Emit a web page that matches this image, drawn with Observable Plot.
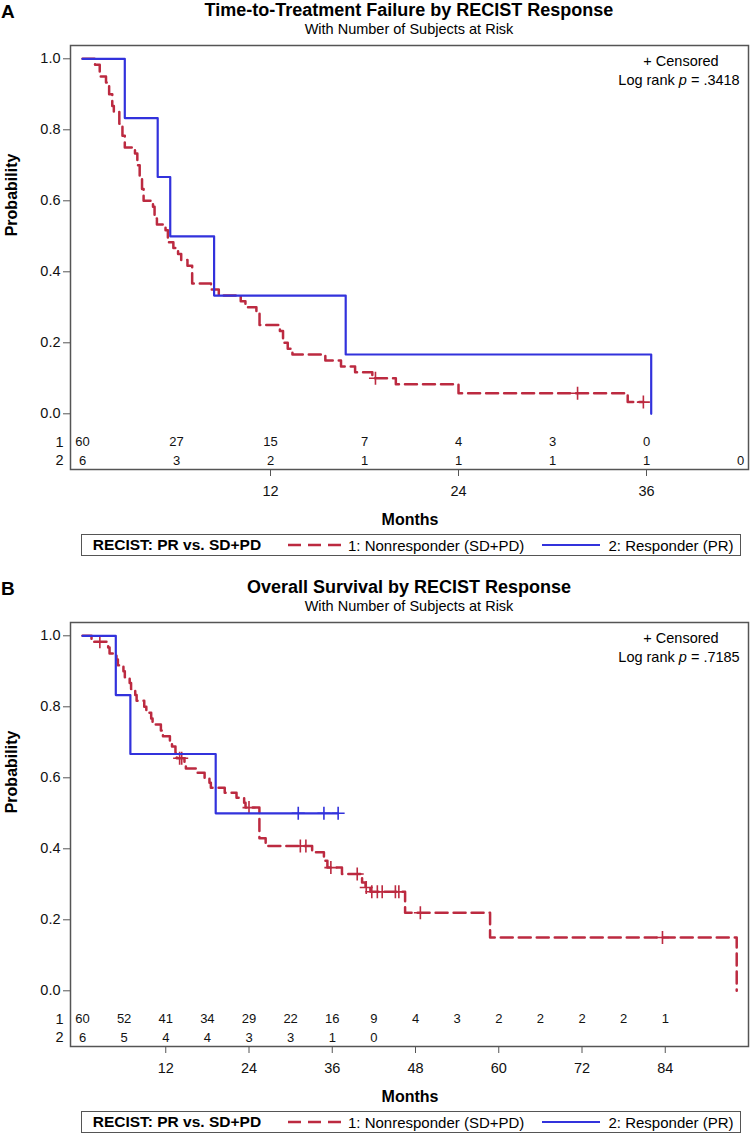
<!DOCTYPE html>
<html>
<head>
<meta charset="utf-8">
<script src="https://cdn.jsdelivr.net/npm/d3@7"></script>
<script src="https://cdn.jsdelivr.net/npm/@observablehq/plot@0.6"></script>
<style>
  body { margin: 0; background: #fff; font-family: "Liberation Sans", Arial, sans-serif; color: #000; }
  .panel { position: relative; width: 756px; overflow: hidden; }
  .panel svg.plot { position: absolute; left: 0; top: 0; }
  .abs { position: absolute; white-space: nowrap; line-height: 1; }
  .legend { position: absolute; box-sizing: border-box; border: 1.5px solid #555; background: #fff; }
</style>
</head>
<body>
<div id="panelA" class="panel" style="height:577px"></div>
<div id="panelB" class="panel" style="height:558px"></div>
<script>
// ---------- DATA ----------
// Panel A: Time-to-Treatment Failure (months, survival probability)
const ttfNonTime = [0,0.8,1.1,1.5,1.7,1.9,2.0,2.35,2.55,2.7,3.35,3.5,3.65,3.8,3.9,4.5,4.6,4.75,5.3,5.45,5.8,6.1,6.3,6.7,7.0,8.2,8.7,10.1,10.4,11.1,11.3,12.6,12.8,13.1,13.4,15.5,16.5,17.4,18.5,20.0,24.0,34.8,35.8];
const ttfNonSurv = [1,.983,.95,.933,.9,.867,.85,.817,.783,.75,.733,.7,.667,.633,.6,.583,.55,.533,.517,.483,.467,.45,.433,.417,.367,.35,.333,.317,.3,.283,.25,.233,.2,.183,.167,.15,.133,.117,.1,.083,.058,.033,.033];
const ttfNonCensTime = [18.7, 31.6, 35.8];
const ttfNonCensSurv = [0.10, 0.058, 0.033];
const ttfRespTime = [0, 2.7, 4.8, 5.6, 8.4, 16.8, 36.3];
const ttfRespSurv = [1, .833, .667, .5, .333, .167, 0];
const ttfRiskTimes = [0, 6, 12, 18, 24, 30, 36, 42];
const ttfRisk1 = [60, 27, 15, 7, 4, 3, 0, null];
const ttfRisk2 = [6, 3, 2, 1, 1, 1, 1, 0];
const ttfTicks = [12, 24, 36];

// Panel B: Overall Survival
const osNonTime = [0,1.3,3.7,3.9,4.9,5.1,5.9,6.1,6.8,7.0,7.6,7.8,8.9,9.2,9.9,10.1,11.3,11.6,12.6,12.9,13.4,13.6,14.7,14.9,16.6,17.6,18.3,18.5,20.5,22.2,23.3,23.5,25.5,26.4,33.1,34.8,35.3,37.4,40.3,40.8,41.5,46.5,58.75,94.3];
const osNonSurv = [1,.983,.967,.95,.933,.917,.9,.883,.867,.85,.833,.817,.8,.783,.767,.75,.733,.717,.70,.688,.671,.655,.64,.626,.614,.60,.586,.572,.558,.544,.53,.516,.43,.408,.39,.366,.347,.329,.305,.291,.279,.22,.15,0];
const osNonCensTime = [2.5, 14.0, 14.3, 24.0, 31.4, 32.2, 35.8, 39.6, 40.9, 41.7, 42.5, 43.2, 45.1, 45.6, 48.7, 83.6];
const osNonCensSurv = [.983, .655, .655, .516, .408, .408, .347, .329, .291, .279, .279, .279, .279, .279, .22, .15];
const osRespTime = [0, 4.8, 6.9, 19.2, 36.85];
const osRespSurv = [1, .833, .667, .5, .5];
const osRespCensTime = [31.1, 34.8, 36.85];
const osRespCensSurv = [.5, .5, .5];
const osRiskTimes = [0, 6, 12, 18, 24, 30, 36, 42, 48, 54, 60, 66, 72, 78, 84];
const osRisk1 = [60, 52, 41, 34, 29, 22, 16, 9, 4, 3, 2, 2, 2, 2, 1];
const osRisk2 = [6, 5, 4, 4, 3, 3, 1, 0];
const osTicks = [12, 24, 36, 48, 60, 72, 84];

const groupLabels = ["1: Nonresponder (SD+PD)", "2: Responder (PR)"];
const RED = "#BC2A40";
const BLUE = "#3232DC";
const FONT = '"Liberation Sans", Arial, sans-serif';

// ---------- HELPERS ----------
const plusSymbol = {
  draw(ctx, size) {
    const r = Math.sqrt(size / Math.PI);
    ctx.moveTo(-r, 0); ctx.lineTo(r, 0);
    ctx.moveTo(0, -r); ctx.lineTo(0, r);
  }
};
const zip = (ts, ss) => ts.map((t, i) => ({t, s: ss[i]}));
const riskRow = (ts, ns) => ns.map((n, i) => ({t: ts[i], n})).filter(d => d.n != null);

function addText(parent, html, {left, top, size, weight = "normal", anchor = "start", color = "#000"}) {
  const d = document.createElement("div");
  d.className = "abs";
  d.innerHTML = html;
  d.style.left = left + "px";
  d.style.top = top + "px";
  d.style.fontSize = size + "px";
  d.style.fontWeight = weight;
  d.style.color = color;
  if (anchor === "middle") d.style.transform = "translateX(-50%)";
  parent.appendChild(d);
  return d;
}

function drawPanel(el, cfg) {
  const svg = Plot.plot({
    width: 756, height: 530,
    marginLeft: 70, marginRight: 8, marginTop: 45, marginBottom: 61,
    style: {fontFamily: FONT, fontSize: "14px", color: "#111", background: "transparent", overflow: "visible"},
    x: {domain: [0, cfg.xmax], insetLeft: 12, insetRight: cfg.insetRight},
    y: {domain: [0, 1], insetTop: 13.3, insetBottom: 55.7},
    marks: [
      Plot.axisY({ticks: [0, 0.2, 0.4, 0.6, 0.8, 1], tickFormat: d3.format(".1f"), tickSize: 7, tickPadding: 3, label: null, fontSize: 14.5, stroke: "#555"}),
      Plot.axisX({ticks: cfg.ticks, tickSize: 7, tickPadding: 9, label: null, fontSize: 14.5, stroke: "#555"}),
      Plot.line(cfg.red, {x: "t", y: "s", curve: "step-after", stroke: RED, strokeWidth: 2.5, strokeDasharray: "12,6"}),
      Plot.dot(cfg.redCens, {x: "t", y: "s", symbol: plusSymbol, r: 6.5, stroke: RED, strokeWidth: 1.6, fill: "none"}),
      Plot.line(cfg.blue, {x: "t", y: "s", curve: "step-after", stroke: BLUE, strokeWidth: 2.2}),
      Plot.dot(cfg.blueCens, {x: "t", y: "s", symbol: plusSymbol, r: 6.5, stroke: BLUE, strokeWidth: 1.6, fill: "none"}),
      Plot.text(cfg.risk1, {x: "t", y: () => -0.08, text: "n", fontSize: 13, fill: "#111"}),
      Plot.text(cfg.risk2, {x: "t", y: () => -0.1315, text: "n", fontSize: 13, fill: "#111"}),
      Plot.text([{r: "1", y: -0.08}, {r: "2", y: -0.1315}], {y: "y", text: "r", frameAnchor: "left", dx: -7, textAnchor: "end", fontSize: 14.5}),
      Plot.text([0.5], {y: d => d, frameAnchor: "left", dx: -59, rotate: -90, text: () => "Probability", fontWeight: "bold", fontSize: 16, fill: "#000"}),
      Plot.frame({stroke: "#555", strokeWidth: 1.5})
    ]
  });
  svg.classList.add("plot");
  el.appendChild(svg);

  addText(el, cfg.letter, {left: 1, top: 1.5, size: 19, weight: "bold"});
  addText(el, cfg.title, {left: 409, top: 0.8, size: 18, weight: "bold", anchor: "middle"});
  addText(el, "With Number of Subjects at Risk", {left: 409, top: 22, size: 14.5, anchor: "middle"});
  addText(el, "+ Censored", {left: 681, top: 54.4, size: 14.5, anchor: "middle"});
  addText(el, 'Log rank <i>p</i> = ' + cfg.pval, {left: 679, top: 72.7, size: 14.5, anchor: "middle"});
  addText(el, "Months", {left: 410, top: 511.5, size: 16, weight: "bold", anchor: "middle"});

  // legend box
  const lg = document.createElement("div");
  lg.className = "legend";
  lg.style.left = "81px"; lg.style.top = "534px"; lg.style.width = "660px"; lg.style.height = "22px";
  el.appendChild(lg);
  addText(el, "RECIST: PR vs. SD+PD", {left: 92.7, top: 537.4, size: 15.5, weight: "bold"});
  addText(el, groupLabels[0], {left: 348, top: 537.6, size: 15});
  addText(el, groupLabels[1], {left: 608.5, top: 537.6, size: 15});
  const sw = document.createElementNS("http://www.w3.org/2000/svg", "svg");
  sw.setAttribute("width", 756); sw.setAttribute("height", 30);
  sw.style.position = "absolute"; sw.style.left = "0px"; sw.style.top = "530px";
  sw.innerHTML = `<line x1="288" x2="341" y1="15" y2="15" stroke="${RED}" stroke-width="2.5" stroke-dasharray="13,7"/>
    <line x1="542" x2="600" y1="15" y2="15" stroke="${BLUE}" stroke-width="2.2"/>`;
  el.appendChild(sw);
}

drawPanel(document.getElementById("panelA"), {
  letter: "A",
  title: "Time-to-Treatment Failure by RECIST Response",
  pval: ".3418",
  xmax: 42, insetRight: 8, ticks: ttfTicks,
  red: zip(ttfNonTime, ttfNonSurv),
  redCens: zip(ttfNonCensTime, ttfNonCensSurv),
  blue: zip(ttfRespTime, ttfRespSurv),
  blueCens: [],
  risk1: riskRow(ttfRiskTimes, ttfRisk1),
  risk2: riskRow(ttfRiskTimes, ttfRisk2)
});

drawPanel(document.getElementById("panelB"), {
  letter: "B",
  title: "Overall Survival by RECIST Response",
  pval: ".7185",
  xmax: 96, insetRight: 0, ticks: osTicks,
  red: zip(osNonTime, osNonSurv),
  redCens: zip(osNonCensTime, osNonCensSurv),
  blue: zip(osRespTime, osRespSurv),
  blueCens: zip(osRespCensTime, osRespCensSurv),
  risk1: riskRow(osRiskTimes, osRisk1),
  risk2: riskRow(osRiskTimes, osRisk2)
});
</script>
</body>
</html>
